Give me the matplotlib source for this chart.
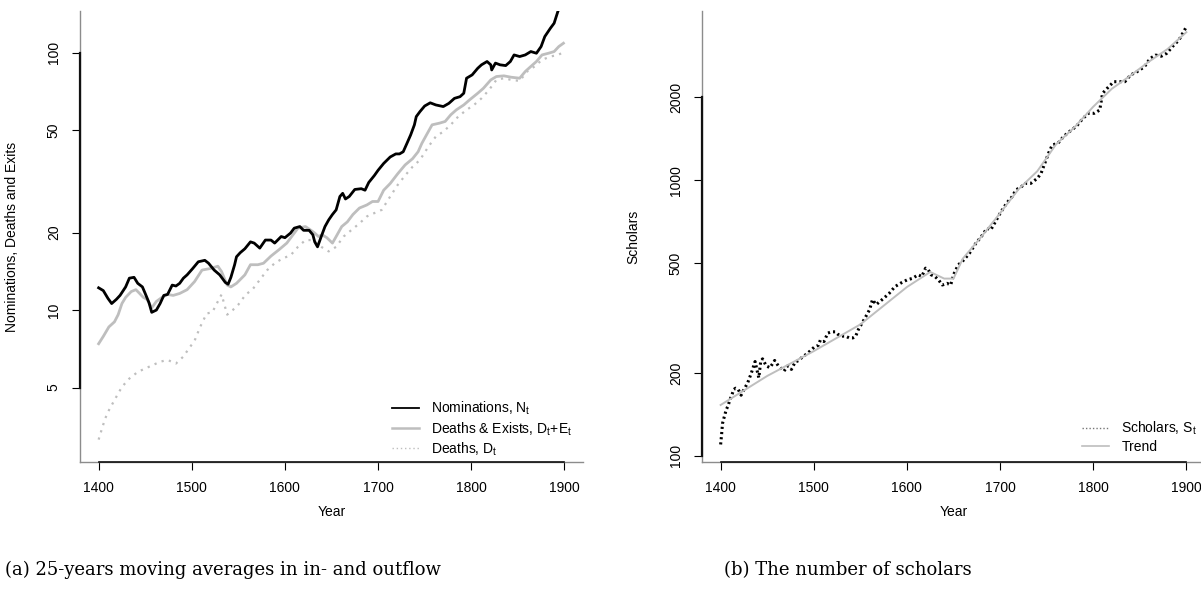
import matplotlib
matplotlib.use("Agg")
import matplotlib.pyplot as plt
from matplotlib.lines import Line2D

plt.rcParams['font.family'] = ['Liberation Sans', 'DejaVu Sans']
plt.rcParams['mathtext.fontset'] = 'custom'
plt.rcParams['mathtext.rm'] = 'Liberation Sans'
plt.rcParams['mathtext.default'] = 'regular'

# panel (a): 25-year moving averages
nom_years = [1400, 1405, 1410, 1414, 1419, 1423, 1429, 1433, 1438, 1442, 1447, 1450, 1454, 1457,
             1462, 1466, 1470, 1474, 1479, 1483, 1487, 1491, 1495, 1501, 1507, 1514, 1518, 1524,
             1530, 1536, 1539, 1542, 1546, 1548, 1552, 1557, 1563, 1567, 1573, 1579, 1585, 1589,
             1596, 1600, 1606, 1610, 1616, 1620, 1626, 1630, 1632, 1635, 1639, 1643, 1647, 1651,
             1655, 1659, 1662, 1665, 1669, 1675, 1682, 1686, 1690, 1696, 1700, 1706, 1713, 1719,
             1723, 1727, 1731, 1735, 1739, 1741, 1745, 1750, 1756, 1762, 1770, 1776, 1782, 1788,
             1792, 1795, 1801, 1807, 1811, 1817, 1821, 1822, 1826, 1831, 1837, 1842, 1846, 1852,
             1858, 1864, 1870, 1875, 1879, 1885, 1889, 1893, 1900]
nominations = [12.2, 11.9, 11.1, 10.6, 11.0, 11.4, 12.3, 13.3, 13.4, 12.7, 12.3, 11.6, 10.7, 9.8,
               10.0, 10.6, 11.4, 11.5, 12.5, 12.4, 12.7, 13.3, 13.7, 14.5, 15.4, 15.6, 15.2, 14.3,
               13.7, 12.8, 12.6, 13.4, 15.0, 16.1, 16.7, 17.3, 18.4, 18.2, 17.4, 18.7, 18.7, 18.2,
               19.3, 19.1, 19.9, 20.8, 21.1, 20.4, 20.4, 19.6, 18.4, 17.6, 19.3, 21.1, 22.4, 23.5,
               24.5, 27.6, 28.4, 27.0, 27.6, 29.4, 29.6, 29.2, 31.3, 33.3, 34.9, 37.1, 39.3, 40.4,
               40.4, 41.2, 44.4, 47.9, 52.4, 56.4, 59.0, 62.0, 63.8, 62.6, 61.7, 63.5, 66.4, 67.4,
               69.5, 79.5, 81.9, 86.9, 89.6, 92.3, 89.6, 85.6, 91.0, 89.6, 89.0, 92.3, 97.9, 96.5,
               97.9, 100.9, 99.4, 105.5, 115.4, 124.3, 130.0, 144.3, 165.0]

de_years = [1400, 1405, 1411, 1417, 1421, 1425, 1429, 1435, 1440, 1444, 1448, 1452, 1457, 1462,
            1468, 1474, 1480, 1487, 1495, 1503, 1511, 1520, 1528, 1532, 1538, 1542, 1548, 1557,
            1563, 1571, 1577, 1585, 1594, 1602, 1610, 1614, 1622, 1628, 1632, 1636, 1640, 1645,
            1651, 1655, 1661, 1667, 1673, 1680, 1688, 1694, 1700, 1706, 1713, 1721, 1729, 1737,
            1743, 1747, 1752, 1758, 1766, 1772, 1778, 1784, 1792, 1798, 1807, 1813, 1821, 1827,
            1835, 1843, 1852, 1858, 1864, 1870, 1876, 1883, 1889, 1894, 1899]
deaths_exits = [7.4, 7.9, 8.6, 9.0, 9.6, 10.6, 11.2, 11.8, 12.0, 11.6, 11.2, 11.0, 10.2, 10.8,
                11.2, 11.5, 11.4, 11.6, 12.0, 12.9, 14.3, 14.5, 14.8, 14.1, 12.5, 12.3, 12.7, 13.7,
                15.0, 15.0, 15.2, 16.2, 17.2, 18.2, 19.9, 20.8, 21.1, 20.4, 19.9, 19.3, 19.6, 19.1,
                18.2, 19.3, 21.1, 22.0, 23.5, 24.9, 25.6, 26.4, 26.4, 29.2, 31.0, 33.8, 36.6, 38.7,
                41.2, 44.4, 47.9, 52.4, 53.2, 54.0, 57.3, 59.9, 62.6, 65.4, 69.5, 72.6, 78.3, 80.7,
                81.2, 80.2, 79.5, 84.4, 88.3, 92.3, 97.9, 99.4, 100.9, 105.5, 108.7]

d_years = [1400, 1403, 1407, 1411, 1417, 1425, 1433, 1442, 1450, 1458, 1466, 1474, 1483, 1491,
           1497, 1503, 1509, 1516, 1522, 1528, 1532, 1538, 1544, 1550, 1558, 1565, 1573, 1581,
           1589, 1598, 1606, 1614, 1622, 1630, 1639, 1647, 1655, 1663, 1671, 1680, 1688, 1696,
           1704, 1713, 1721, 1729, 1737, 1745, 1754, 1762, 1770, 1778, 1786, 1795, 1803, 1811,
           1819, 1827, 1835, 1843, 1852, 1860, 1868, 1876, 1885, 1893, 1897]
deaths = [3.14, 3.41, 3.79, 4.08, 4.47, 5.03, 5.42, 5.75, 5.93, 6.11, 6.30, 6.4, 6.2, 6.6,
          7.1, 7.6, 8.6, 9.7, 9.8, 10.8, 11.5, 9.6, 10.0, 10.5, 11.5, 12.0, 13.1, 14.3,
          15.2, 15.9, 16.3, 17.6, 18.7, 18.7, 17.6, 16.9, 17.6, 19.3, 20.4, 21.7, 23.1, 23.8,
          24.5, 27.6, 30.6, 33.3, 36.0, 38.3, 43.1, 47.2, 49.3, 52.4, 56.4, 59.9, 62.6, 66.4,
          71.5, 78.3, 79.5, 78.3, 77.6, 84.4, 88.3, 93.7, 96.5, 97.9, 99.4]

# panel (b): number of scholars and trend
sch_years = [1400, 1401, 1402, 1404, 1406, 1408, 1410, 1412, 1414, 1416, 1419, 1422, 1425, 1429,
             1433, 1437, 1439, 1441, 1443, 1445, 1449, 1453, 1458, 1462, 1466, 1468, 1472, 1476,
             1480, 1484, 1488, 1493, 1497, 1501, 1505, 1507, 1511, 1515, 1519, 1523, 1526, 1530,
             1534, 1538, 1542, 1545, 1548, 1552, 1556, 1560, 1563, 1567, 1575, 1581, 1587, 1593,
             1600, 1606, 1612, 1616, 1620, 1623, 1626, 1630, 1634, 1638, 1643, 1647, 1650, 1655,
             1661, 1667, 1674, 1680, 1686, 1690, 1694, 1700, 1707, 1713, 1717, 1723, 1727, 1733,
             1740, 1744, 1748, 1752, 1756, 1762, 1768, 1772, 1779, 1783, 1789, 1795, 1801, 1807,
             1810, 1815, 1822, 1828, 1834, 1840, 1847, 1855, 1861, 1867, 1873, 1879, 1885, 1892,
             1896, 1900]
scholars = [110, 119, 131, 139, 147, 152, 160, 166, 174, 176, 174, 166, 174, 184,
            200, 220, 205, 192, 220, 225, 212, 209, 222, 212, 206, 203, 212, 206,
            219, 222, 229, 235, 242, 249, 252, 263, 260, 279, 282, 282, 276, 272,
            272, 268, 268, 272, 288, 304, 321, 340, 369, 354, 373, 389, 411, 423,
            435, 441, 454, 448, 480, 473, 454, 448, 435, 417, 423, 417, 454, 493,
            514, 543, 591, 626, 670, 661, 698, 759, 826, 873, 923, 949, 975, 975,
            1017, 1060, 1153, 1254, 1344, 1362, 1440, 1481, 1544, 1587, 1679, 1751, 1751, 1800,
            2069, 2158, 2281, 2281, 2281, 2411, 2479, 2584, 2769, 2849, 2821, 2892, 3057, 3230,
            3415, 3608]

trend_years = [1400, 1450, 1500, 1550, 1600, 1625, 1640, 1650, 1660, 1680, 1700, 1720, 1740,
               1760, 1780, 1800, 1820, 1840, 1860, 1880, 1900]
trend = [153, 195, 240, 300, 410, 465, 440, 440, 520, 625, 760, 930, 1080,
         1350, 1560, 1850, 2150, 2400, 2700, 3000, 3450]

year_ticks = [1400, 1500, 1600, 1700, 1800, 1900]
left_ticks = [5, 10, 20, 50, 100]
right_ticks = [100, 200, 500, 1000, 2000]

GRAY = '#bebebe'

fig = plt.figure(figsize=(12.01, 6.04), dpi=100)
ax1 = fig.add_axes([80 / 1201, 142 / 604, 503 / 1201, 451 / 604])
ax2 = fig.add_axes([702 / 1201, 142 / 604, 503 / 1201, 451 / 604])


def r_style(ax, yticks, ylim):
    ax.set_yscale('log')
    ax.set_xlim(1380, 1920)
    ax.set_ylim(*ylim)
    ax.set_xticks(year_ticks)
    ax.set_xticklabels([str(t) for t in year_ticks])
    ax.set_yticks(yticks)
    ax.set_yticklabels([str(t) for t in yticks], rotation=90, va='center')
    ax.yaxis.set_minor_locator(matplotlib.ticker.NullLocator())
    for s in ['top', 'right']:
        ax.spines[s].set_visible(False)
    # R look: grey box edge over the full length, black axis between outer ticks
    ax.spines['bottom'].set_bounds(year_ticks[0], year_ticks[-1])
    ax.spines['left'].set_bounds(yticks[0], yticks[-1])
    ax.spines['bottom'].set_linewidth(1.2)
    ax.spines['left'].set_linewidth(1.6)
    for s in ['left', 'bottom']:
        ax.spines[s].set_color('#111111')
    ax.plot([0, 1], [0, 0], color='#8c8c8c', lw=1.0, transform=ax.transAxes,
            clip_on=False, zorder=2.4)
    ax.plot([0, 0], [0, 1], color='#8c8c8c', lw=1.0, transform=ax.transAxes,
            clip_on=False, zorder=2.4)
    ax.tick_params(direction='out', length=5.8, width=0.8, colors='black', labelsize=10)
    ax.tick_params(axis='x', pad=8)
    ax.tick_params(axis='y', pad=8)
    ax.set_xlabel('Year', fontsize=10)
    ax.xaxis.set_label_coords(0.5, -0.111)
    ax.xaxis.label.set_va('center')


# left panel
ax1.plot(d_years, deaths, color=GRAY, lw=1.6, linestyle=(0, (1, 2.4)))
ax1.plot(de_years, deaths_exits, color=GRAY, lw=2.0)
ax1.plot(nom_years, nominations, color='black', lw=2.0)
r_style(ax1, left_ticks, (2.57, 145))
ax1.set_ylabel('Nominations, Deaths and Exits', fontsize=10)
ax1.yaxis.set_label_coords(-0.122, 0.5)

h1 = [Line2D([], [], color='black', lw=1.3),
      Line2D([], [], color=GRAY, lw=1.8),
      Line2D([], [], color=GRAY, lw=1.0, linestyle=(0, (1, 2)))]
ax1.legend(h1, ['Nominations, N$_t$', 'Deaths & Exists, D$_t$+E$_t$', 'Deaths, D$_t$'],
           loc='upper left', bbox_to_anchor=(0.620, 0.1375), frameon=False,
           fontsize=10, handlelength=1.95, handletextpad=0.9, borderpad=0,
           borderaxespad=0, labelspacing=0.2)

# right panel
ax2.plot(sch_years, scholars, color='black', lw=2.2, linestyle=(0, (0.7, 1.0)))
ax2.plot(trend_years, trend, color=GRAY, lw=1.4)
r_style(ax2, right_ticks, (95, 4118))
ax2.set_ylabel('Scholars', fontsize=10)
ax2.yaxis.set_label_coords(-0.122, 0.5)

h2 = [Line2D([], [], color='#777777', lw=1.0, linestyle=(0, (1, 1.5))),
      Line2D([], [], color=GRAY, lw=1.2)]
ax2.legend(h2, ['Scholars, S$_t$', 'Trend'],
           loc='upper left', bbox_to_anchor=(0.755, 0.093), frameon=False,
           fontsize=10, handlelength=1.95, handletextpad=0.9, borderpad=0,
           borderaxespad=0, labelspacing=0.2)

fig.text(5 / 1201, 1 - 570 / 604, '(a) 25-years moving averages in in- and outflow',
         family='DejaVu Serif', fontsize=13, va='center', ha='left')
fig.text(848 / 1201, 1 - 570 / 604, '(b) The number of scholars',
         family='DejaVu Serif', fontsize=13, va='center', ha='center')

fig.savefig('out.png', dpi=100)
